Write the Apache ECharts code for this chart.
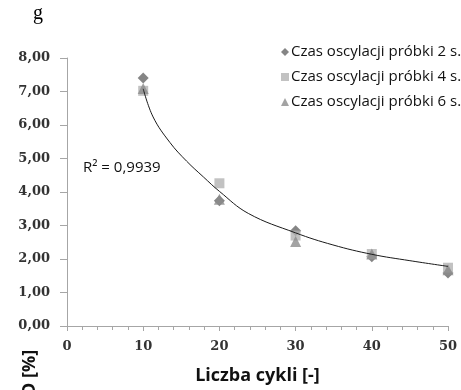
<!DOCTYPE html>
<html>
<head>
<meta charset="utf-8">
<script src="https://cdn.jsdelivr.net/npm/echarts@6/dist/echarts.min.js"></script>
<style>
  html, body { margin: 0; padding: 0; background: #fff; }
  #chart { width: 461px; height: 390px; }
</style>
</head>
<body>
<div id="chart"></div>
<script>
// cycles on x axis
const cycles = [10, 20, 30, 40, 50]
// D [%] for each oscillation time
const osc2s = [7.40, 3.74, 2.84, 2.07, 1.58]
const osc4s = [7.02, 4.26, 2.70, 2.15, 1.74]
const osc6s = [7.09, 3.78, 2.52, 2.15, 1.68]
// trend line
const trendX = [10, 11.3, 13.5, 15.7, 17.9, 20, 23.8, 30, 34.9, 40, 45, 50]
const trendY = [7.08, 6.24, 5.48, 4.92, 4.45, 4.02, 3.36, 2.78, 2.42, 2.14, 1.95, 1.78]

const seriesNames = [
  'Czas oscylacji próbki 2 s.',
  'Czas oscylacji próbki 4 s.',
  'Czas oscylacji próbki 6 s.',
]

const pairs = (xs, ys) => xs.map((x, i) => [x, ys[i]])
const fmt = (v) => v.toFixed(2).replace('.', ',')

const axisColor = '#a6a6a6'
const labelFont = {
  fontFamily: 'DejaVu Serif',
  fontWeight: 'bold',
  fontSize: 13,
  color: '#333',
}

const myChart = echarts.init(document.getElementById('chart'))

myChart.setOption({
  animation: false,
  grid: { left: 67, right: 13, top: 58, bottom: 50 },
  legend: {
    orient: 'vertical',
    left: 276,
    top: 38,
    itemWidth: 8,
    itemHeight: 8,
    itemGap: 7,
    textStyle: {
      fontFamily: 'Open Sans',
      fontSize: 15,
      color: '#111',
      lineHeight: 18,
      padding: [0, 0, 0, -3],
    },
    data: [
      { name: seriesNames[0], icon: 'diamond' },
      { name: seriesNames[1], icon: 'rect' },
      { name: seriesNames[2], icon: 'triangle' },
    ],
  },
  xAxis: {
    type: 'value',
    min: 0,
    max: 50,
    interval: 10,
    name: 'Liczba cykli [-]',
    nameLocation: 'middle',
    nameGap: 41,
    nameTextStyle: {
      fontFamily: 'Open Sans',
      fontWeight: 'bold',
      fontSize: 18,
      color: '#111',
    },
    axisLine: { lineStyle: { color: axisColor } },
    axisTick: { length: 5, lineStyle: { color: axisColor } },
    minorTick: { show: true, splitNumber: 5, length: 4, lineStyle: { color: axisColor } },
    axisLabel: { ...labelFont, margin: 14 },
    splitLine: { show: false },
  },
  yAxis: {
    type: 'value',
    min: 0,
    max: 8,
    interval: 1,
    axisLine: { show: true, lineStyle: { color: axisColor } },
    axisTick: { show: true, length: 7, lineStyle: { color: axisColor } },
    axisLabel: { ...labelFont, margin: 17, formatter: fmt },
    splitLine: { show: false },
  },
  graphic: [
    {
      type: 'text',
      left: 33,
      top: 4,
      style: { text: 'g', fontFamily: 'Liberation Serif', fontSize: 20, fill: '#000' },
    },
    {
      type: 'text',
      left: 83,
      top: 160,
      style: { text: 'R² = 0,9939', fontFamily: 'Open Sans', fontSize: 15, fill: '#111' },
    },
    {
      type: 'text',
      x: 30,
      y: 396,
      rotation: Math.PI / 2,
      style: {
        text: 'D [%]',
        fontFamily: 'Open Sans',
        fontWeight: 'bold',
        fontSize: 18,
        fill: '#111',
        textAlign: 'left',
        textVerticalAlign: 'middle',
      },
    },
  ],
  series: [
    {
      name: seriesNames[1],
      type: 'scatter',
      symbol: 'rect',
      symbolSize: 10,
      itemStyle: { color: '#b3b3b3' },
      data: pairs(cycles, osc4s),
      z: 2,
    },
    {
      name: seriesNames[2],
      type: 'scatter',
      symbol: 'triangle',
      symbolSize: 11,
      itemStyle: { color: '#8c8c8c' },
      data: pairs(cycles, osc6s),
      z: 3,
    },
    {
      name: seriesNames[0],
      type: 'scatter',
      symbol: 'diamond',
      symbolSize: 11,
      itemStyle: { color: '#666' },
      data: pairs(cycles, osc2s),
      z: 1,
    },
    {
      name: 'trend',
      type: 'line',
      data: pairs(trendX, trendY),
      smooth: 0.4,
      showSymbol: false,
      lineStyle: { color: '#1a1a1a', width: 1 },
      z: 5,
    },
  ],
})
</script>
</body>
</html>
